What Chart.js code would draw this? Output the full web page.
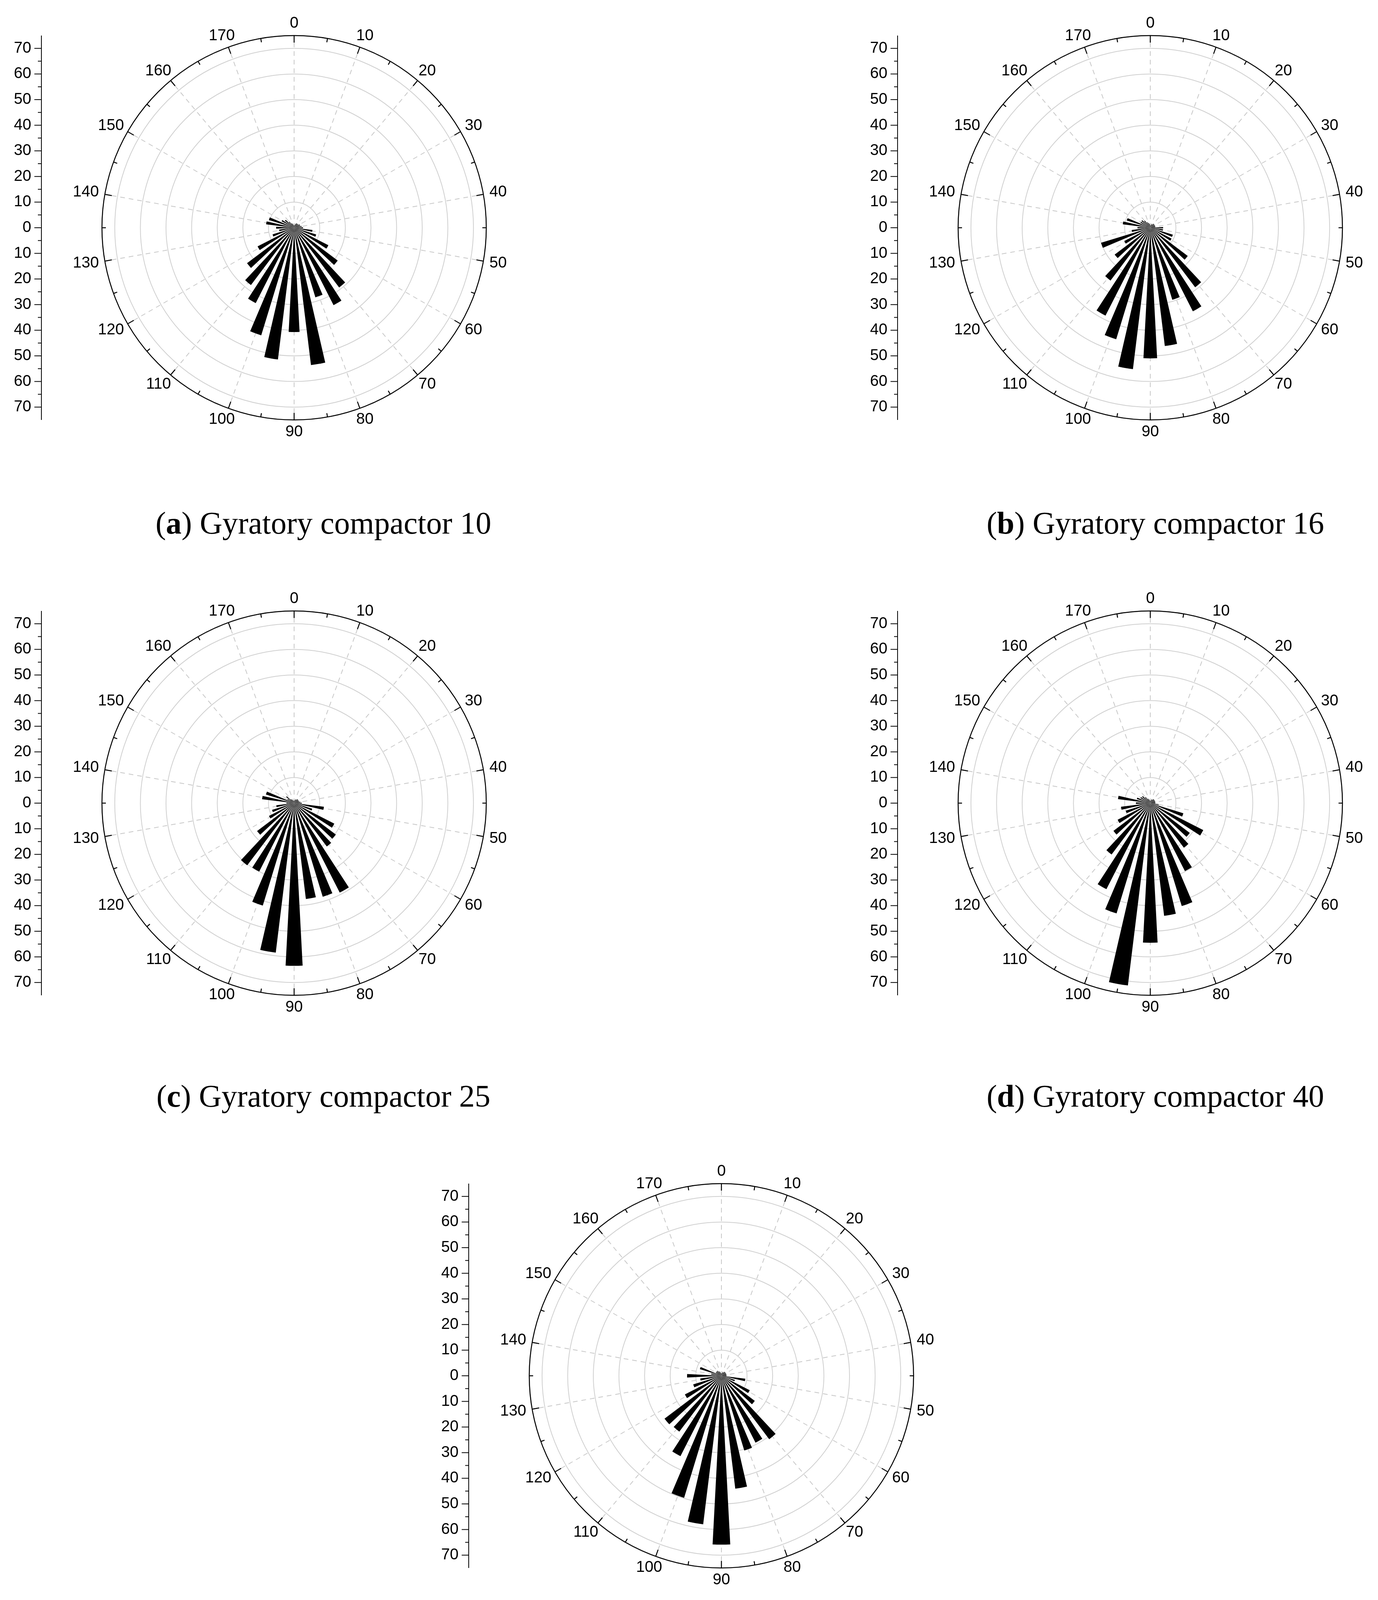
<!DOCTYPE html>
<html lang="en">
<head>
<meta charset="UTF-8">
<title>Gyratory compactor rose diagrams</title>
<script src="https://cdn.jsdelivr.net/npm/chart.js"></script>
<style>
    body { margin: 0; background: #fff; width: 3528px; height: 4339px; position: relative; overflow: hidden; }
    canvas { position: absolute; }
    .cap {
        position: absolute;
        transform: translate(-50%, -50%);
        font-family: "Liberation Serif", "DejaVu Serif", serif;
        font-size: 80px;
        white-space: nowrap;
        color: #000;
    }
</style>
</head>
<body>
<script>
// orientation bins (degrees, 0..175 in 5 degree steps)
const bins = [0,5,10,15,20,25,30,35,40,45,50,55,60,65,70,75,80,85,90,95,100,105,110,115,120,125,130,135,140,145,150,155,160,165,170,175];
const angleLabels = [0,10,20,30,40,50,60,70,80,90,100,110,120,130,140,150,160,170];
const radialTicks = [0,10,20,30,40,50,60,70];

// frequency per bin, one array per compaction level
const gyr10 = [1,1,1.5,2,2,2,2.5,2.5,3,3.5,7.2,9,15,21.3,29.2,33.9,28.4,54,40.7,51.8,43.9,33,28,23,16,8.8,5.9,7,11,10.3,5.5,4.5,3,2,1.5,1];
const gyr16 = [1,1,1.5,1.5,2,2,2,2,2,5,5,9.2,9.3,18.3,29.1,36.6,29.4,46.5,51,55.6,45.5,38.5,25.8,17.4,11.4,20.1,7.3,5,10.8,9.6,4.3,4.3,3.5,2.5,2,1.5];
const gyr25 = [1,1,1.5,1.5,2,2,2,2,2.5,3,11.7,7.4,17.6,20.4,21.2,39.2,38.2,37.7,63.5,58.8,41.8,30,30.4,18.1,11,9,7,3,12.6,11.5,3,3.9,2,1.5,1,1];
const gyr40 = [1,1,1.5,1.5,2,2,2,2,2,2,3.3,13.5,23.2,19.3,21.8,29.8,42,44.3,54.5,71.7,45,37.7,25.1,18,14.3,10,11.5,5.6,12.7,5.5,4.3,4,3,2,1.5,1];
const gyr70 = [1,1,1.5,1.5,2,2,2,2,2,2,9.4,5.5,12.4,16.3,31,29.3,30.5,44.4,65.9,58.4,49.8,35.2,27.3,27.8,16,11.5,8.3,13.4,4,8.8,2.5,2.5,2.5,2,1.5,1];

const panels = [
    { id: 'a', n: 10, data: gyr10, cx: 753,  cy: 583,  capX: 828,  capY: 1339 },
    { id: 'b', n: 16, data: gyr16, cx: 2945, cy: 583,  capX: 2958, capY: 1339 },
    { id: 'c', n: 25, data: gyr25, cx: 753,  cy: 2056, capX: 828,  capY: 2806 },
    { id: 'd', n: 40, data: gyr40, cx: 2945, cy: 2056, capX: 2958, capY: 2806 },
    { id: 'e', n: 70, data: gyr70, cx: 1847, cy: 3522, capX: 1847, capY: 4278 }
];

const BAR = 6, GAP = 4;   // visual degrees per bin = 10
const RMAX = 75;

const decor = {
    id: 'decor',
    beforeDatasetsDraw(chart) {
        const s = chart.scales.r, ctx = chart.ctx;
        const cx = s.xCenter, cy = s.yCenter, R = s.getDistanceFromCenterForValue(RMAX);
        ctx.save();
        ctx.strokeStyle = '#c8c8c8';
        ctx.lineWidth = 2;
        ctx.setLineDash([12, 10]);
        angleLabels.forEach((lab, k) => {
            const a = (k * 20) * Math.PI / 180;
            ctx.beginPath();
            ctx.moveTo(cx, cy);
            ctx.lineTo(cx + R * Math.sin(a), cy - R * Math.cos(a));
            ctx.stroke();
        });
        ctx.restore();
    },
    afterDatasetsDraw(chart) {
        const s = chart.scales.r, ctx = chart.ctx;
        const cx = s.xCenter, cy = s.yCenter, R = s.getDistanceFromCenterForValue(RMAX);
        ctx.save();
        ctx.strokeStyle = '#000';
        ctx.lineWidth = 2.5;
        ctx.beginPath();
        ctx.arc(cx, cy, R, 0, Math.PI * 2);
        ctx.stroke();

        // ticks on the outer circle
        ctx.lineWidth = 2.5;
        for (let k = 0; k < 36; k++) {
            const a = k * 10 * Math.PI / 180;
            const len = k % 2 === 0 ? 18 : 10;
            ctx.beginPath();
            ctx.moveTo(cx + R * Math.sin(a), cy - R * Math.cos(a));
            ctx.lineTo(cx + (R - len) * Math.sin(a), cy - (R - len) * Math.cos(a));
            ctx.stroke();
        }

        // angle labels
        ctx.fillStyle = '#000';
        ctx.font = '40px "Liberation Sans", Arial, sans-serif';
        ctx.textAlign = 'center';
        ctx.textBaseline = 'middle';
        angleLabels.forEach((lab, k) => {
            const a = (k * 20) * Math.PI / 180;
            const txt = String(lab);
            const w = ctx.measureText(txt).width, h = 30;
            const d = R + 16;
            const x = cx + d * Math.sin(a) + Math.sin(a) * w / 2;
            const y = cy - d * Math.cos(a) - Math.cos(a) * h / 2;
            ctx.fillText(txt, x, y);
        });

        // left radial axis, mirrored
        const ax = cx - 647;
        ctx.lineWidth = 2;
        ctx.beginPath();
        ctx.moveTo(ax, cy - R);
        ctx.lineTo(ax, cy + R);
        ctx.stroke();
        for (let v = -70; v <= 70; v += 5) {
            const y = cy - Math.sign(v) * s.getDistanceFromCenterForValue(Math.abs(v));
            const len = v % 10 === 0 ? 18 : 9;
            ctx.beginPath();
            ctx.moveTo(ax, y);
            ctx.lineTo(ax - len, y);
            ctx.stroke();
        }
        ctx.textAlign = 'right';
        radialTicks.forEach(v => {
            [1, -1].forEach(sg => {
                if (v === 0 && sg < 0) return;
                const y = cy - sg * s.getDistanceFromCenterForValue(v);
                ctx.fillText(String(v), ax - 26, y);
            });
        });
        ctx.restore();
    }
};

panels.forEach(p => {
    const cv = document.createElement('canvas');
    cv.width = 1400; cv.height = 1200;
    cv.style.width = '1400px'; cv.style.height = '1200px';
    cv.style.left = (p.cx - 800) + 'px';
    cv.style.top = (p.cy - 600) + 'px';
    document.body.appendChild(cv);

    const values = p.data.flatMap(v => [v, 0]);
    const labels = bins.flatMap(b => [String(b), '']);

    new Chart(cv, {
        type: 'polarArea',
        data: {
            labels: labels,
            datasets: [{
                data: values,
                backgroundColor: '#000',
                borderWidth: 0,
                angle: ctx => (ctx.dataIndex % 2 === 0 ? BAR : GAP)
            }]
        },
        options: {
            responsive: false,
            devicePixelRatio: 1,
            animation: false,
            layout: { padding: { left: 308, right: 108, top: 108, bottom: 108 } },
            plugins: { legend: { display: false }, tooltip: { enabled: false } },
            scales: {
                r: {
                    min: 0,
                    max: RMAX,
                    startAngle: -BAR / 2,
                    ticks: { display: false, stepSize: 10 },
                    grid: { circular: true, color: '#d0d0d0', lineWidth: 2 },
                    angleLines: { display: false },
                    pointLabels: { display: false }
                }
            }
        },
        plugins: [decor]
    });

    const cap = document.createElement('div');
    cap.className = 'cap';
    cap.style.left = p.capX + 'px';
    cap.style.top = p.capY + 'px';
    cap.innerHTML = '(<b>' + p.id + '</b>) Gyratory compactor ' + p.n;
    document.body.appendChild(cap);
});
</script>
</body>
</html>
